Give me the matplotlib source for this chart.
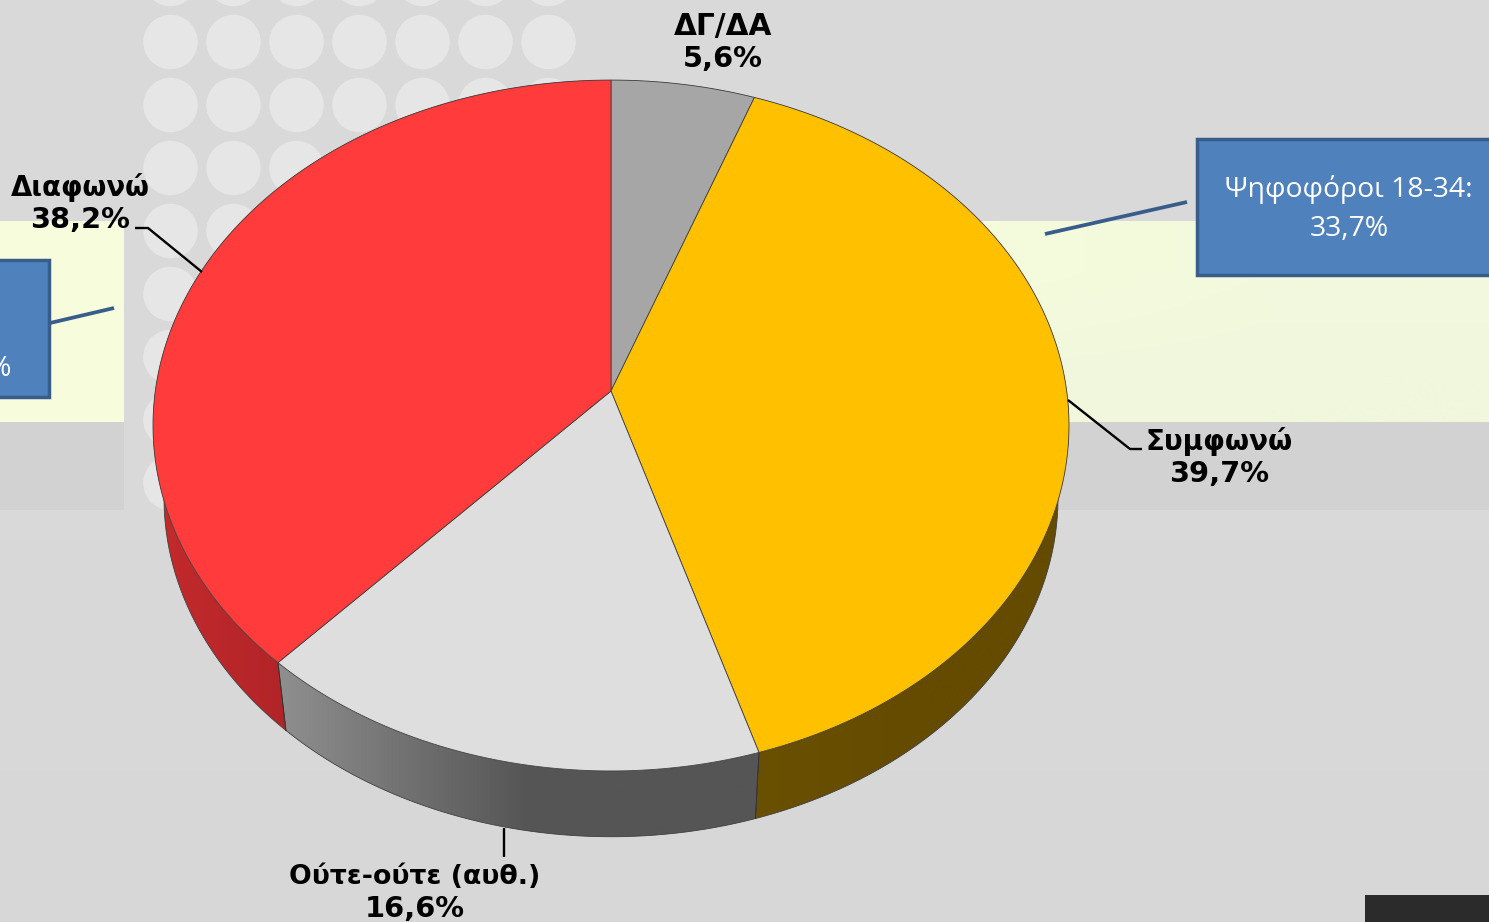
import numpy as np
import matplotlib
matplotlib.use("Agg")
import matplotlib.pyplot as plt
from matplotlib.patches import Polygon, Rectangle, Ellipse
from matplotlib.colors import to_rgb

# ---- data ----
categories = ["ΔΓ/ΔΑ", "Συμφωνώ", "Ούτε-ούτε (αυθ.)", "Διαφωνώ"]
values = [5.6, 39.7, 16.6, 38.2]
value_labels = ["5,6%", "39,7%", "16,6%", "38,2%"]
top_colors = ["#A6A6A6", "#FFC000", "#DEDEDE", "#FF3B3B"]
side_left = ["#707070", "#6A5000", "#8F8F8F", "#C42A2D"]
side_right = ["#707070", "#644B00", "#555555", "#A32024"]
callout_right = ["Ψηφοφόροι 18-34:", "33,7%"]

W, H = 1489, 922
fig = plt.figure(figsize=(W / 100, H / 100), dpi=100)
ax = fig.add_axes([0, 0, 1, 1])
ax.set_xlim(0, W)
ax.set_ylim(H, 0)
ax.axis("off")


def reset_limits():
    ax.set_xlim(0, W)
    ax.set_ylim(H, 0)


# ---- background ----
grad = np.array([[217], [217], [216], [215]], dtype=float) / 255
ax.imshow(grad, cmap="gray", vmin=0, vmax=1, extent=(0, W, H, 0), aspect="auto",
          interpolation="bilinear", zorder=0)
reset_limits()
for (x, w) in [(0, 124), (600, W - 600)]:
    ax.add_patch(Rectangle((x, 422), w, 88, fc="#D2D2D2", ec="none", zorder=1))
ax.add_patch(Rectangle((0, 221), 124, 201, fc="#F7FDDC", ec="none", zorder=1))
band = np.array([[[247, 254, 220], [242, 249, 221]],
                 [[241, 248, 220], [240, 247, 221]]], dtype=float) / 255
ax.imshow(band, extent=(600, W, 422, 221), aspect="auto", interpolation="bilinear", zorder=1)
reset_limits()
for i in range(7):
    for j in range(-1, 8):
        ax.add_patch(Ellipse((170.5 + 63 * i, 42 + 63 * j), 54.5, 54.5, fc="#E6E6E6", ec="none", zorder=2))
ax.add_patch(Rectangle((1365, 895), W - 1365, 30, fc="#2B2B2B", ec="none", zorder=2))

# ---- 3D pie: unit circle -> perspective projection ----
CX, CY = 611.0, 391.0
A, B, K = 455.7, 342.0, 0.0999


def top_xy(theta):
    d = 1 + K * np.cos(theta)
    return CX + A * np.sin(theta) / d, CY - B * np.cos(theta) / d


def bot_xy(theta):
    x, y = top_xy(theta)
    return CX + 0.976 * (x - CX), 464 + 0.981 * (y - CY)


edges = np.cumsum([0] + values) / np.sum(values) * 2 * np.pi

# sides: a horizontal gradient image clipped to each slice's outer wall
for k in range(len(values)):
    t = np.linspace(edges[k], edges[k + 1], 200)
    xs, ys = top_xy(t)
    xb, yb = bot_xy(t)
    cL, cR = np.array(to_rgb(side_left[k])), np.array(to_rgb(side_right[k]))
    x0, x1 = min(xs.min(), xb.min()), max(xs.max(), xb.max())
    y0, y1 = min(ys.min(), yb.min()), max(ys.max(), yb.max())
    f = np.clip(np.linspace(0, 1, 256) / 0.52, 0, 1)[None, :, None]
    img = cL[None, None, :] + (cR - cL)[None, None, :] * f
    wall = Polygon(np.column_stack([np.r_[xs, xb[::-1]], np.r_[ys, yb[::-1]]]), closed=True,
                   transform=ax.transData, fc="none", ec="none")
    im = ax.imshow(img, extent=(x0, x1, y1, y0), aspect="auto", interpolation="bilinear", zorder=3)
    ax.add_patch(wall)
    im.set_clip_path(wall)
    reset_limits()
    ax.plot(xb, yb, color="#404040", lw=0.6, zorder=3.5)
    ax.plot([xs[0], xb[0]], [ys[0], yb[0]], color="#333333", lw=0.6, zorder=3.5)
    ax.plot([xs[-1], xb[-1]], [ys[-1], yb[-1]], color="#333333", lw=0.6, zorder=3.5)

# top faces
for k in range(len(values)):
    t = np.linspace(edges[k], edges[k + 1], 240)
    xs, ys = top_xy(t)
    pts = np.column_stack([np.r_[CX, xs], np.r_[CY, ys]])
    ax.add_patch(Polygon(pts, closed=True, fc=top_colors[k], ec="#404040", lw=0.6, zorder=4))

# ---- leaders ----
lead = dict(color="black", lw=1.7, zorder=5, solid_capstyle="butt", solid_joinstyle="round")
ax.plot([135, 148, 202], [228, 228, 272], **lead)
ax.plot([1142, 1130, 1068], [449, 449, 400], **lead)
ax.plot([504, 504], [828, 857], **lead)

# ---- labels ----
label_pos = [(723, 26.5, 59), (1219, 441.5, 474), (415, 876.5, 909), (80, 187.5, 220)]
name_sizes = [21.3, 20, 19.3, 19.8]
num_size = 20.8
for (name, val, (x, y1, y2), fs) in zip(categories, value_labels, label_pos, name_sizes):
    ax.text(x, y1, name, ha="center", va="center", fontsize=fs, fontweight="bold",
            family="DejaVu Sans", color="black", zorder=6)
    ax.text(x, y2, val, ha="center", va="center", fontsize=num_size, fontweight="bold",
            family="DejaVu Sans", color="black", zorder=6)

# ---- callouts ----
blue, dark = "#4F81BD", "#385D8A"
ax.add_patch(Rectangle((1197, 139), 300, 136, fc=blue, ec=dark, lw=2.5, zorder=5))
ax.add_patch(Rectangle((-20, 260), 69, 137, fc=blue, ec=dark, lw=2.5, zorder=5))
ax.plot([1187, 1045], [202, 234], color=dark, lw=2.7, zorder=5, solid_capstyle="butt")
ax.plot([50, 114], [323, 308], color=dark, lw=2.7, zorder=5, solid_capstyle="butt")
ax.text(1349, 190, callout_right[0], ha="center", va="center", fontsize=20.4, color="white",
        family="Open Sans", zorder=6)
ax.text(1349, 229, callout_right[1], ha="center", va="center", fontsize=20.4, color="white",
        family="Open Sans", zorder=6)
ax.text(11, 369, "%", ha="right", va="center", fontsize=20.4, color="white", family="Open Sans", zorder=6)

fig.savefig("out.png", dpi=100)
